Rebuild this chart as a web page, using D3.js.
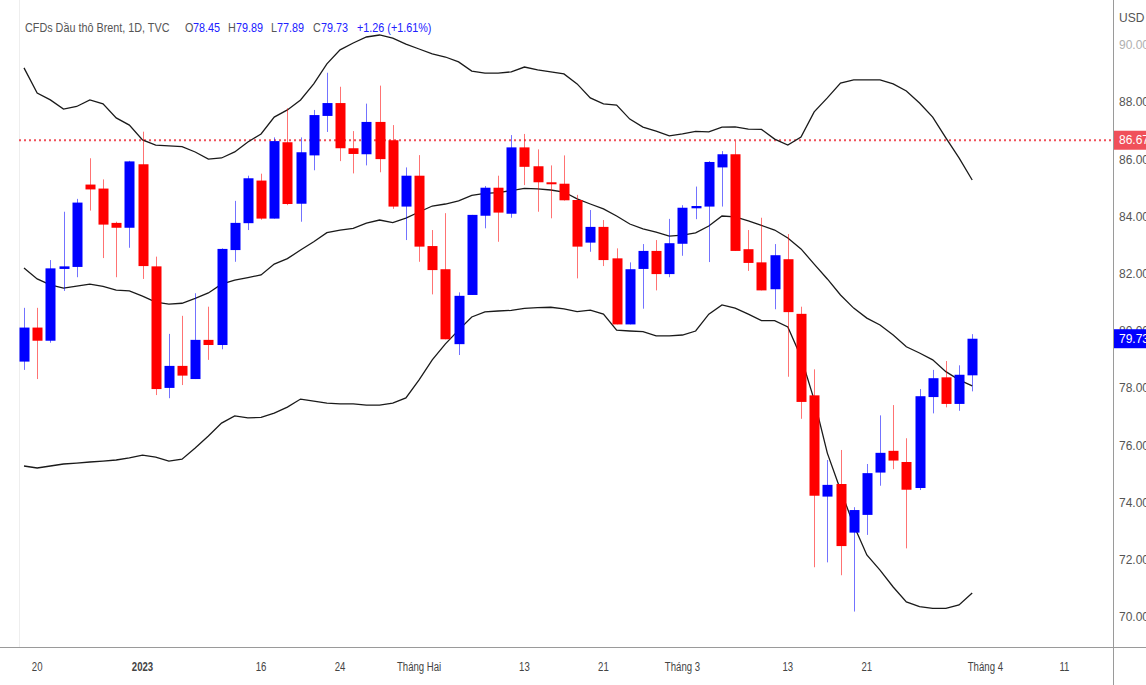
<!DOCTYPE html>
<html>
<head>
<meta charset="utf-8">
<script src="https://cdn.jsdelivr.net/npm/d3@7"></script>
<style>
  body { margin: 0; background: #fff; }
  svg { display: block; font-family: "Liberation Sans", Arial, sans-serif; }
</style>
</head>
<body>
<div id="chart"></div>
<script>
// candles, one per trading day (19 Dec 2022 .. 31 Mar 2023)
var opens  = [78.93,80.12,79.66,82.17,82.24,85.12,84.98,83.78,83.61,85.83,82.26,78.01,78.78,78.32,79.69,79.51,82.83,83.77,85.26,83.93,
              86.60,84.45,86.14,87.52,87.97,86.39,86.18,87.31,86.67,84.35,85.43,82.97,82.16,79.54,81.26,84.03,85.01,84.10,86.42,85.76,
              85.20,85.15,84.58,83.09,83.64,82.54,80.23,82.17,82.80,81.99,83.05,84.29,84.35,85.72,86.18,82.86,82.40,81.46,82.51,80.60,
              77.75,74.21,74.65,72.95,73.57,75.05,75.81,75.42,74.51,77.69,78.38,77.45,78.45];
var highs  = [80.81,80.81,82.48,84.17,84.62,86.04,85.30,83.82,85.95,86.97,82.60,79.90,80.53,81.32,80.85,82.89,84.55,85.43,85.50,86.77,
              87.79,86.77,87.73,89.03,88.54,86.99,87.95,88.58,87.20,85.72,86.15,83.53,84.12,81.35,84.06,85.07,85.43,86.85,86.89,86.35,
              85.79,86.14,84.76,84.23,83.88,82.89,82.40,83.04,83.18,83.92,84.40,85.05,85.94,86.29,86.65,83.53,83.96,83.04,83.39,80.85,
              78.66,75.49,75.84,73.84,75.35,77.05,77.41,76.25,77.97,78.64,78.95,78.80,79.89];
var lows   = [78.64,78.32,79.59,81.40,81.88,84.21,82.55,81.88,82.91,81.82,77.76,77.65,78.11,78.32,78.99,79.36,82.42,83.53,83.89,83.93,
              84.40,83.82,85.62,86.96,85.94,85.51,85.79,85.55,84.27,83.18,82.42,81.28,79.71,79.16,81.26,83.59,83.12,83.96,85.10,84.17,
              83.94,84.56,81.84,82.77,82.27,80.23,80.23,80.78,81.42,81.88,82.63,83.91,82.41,84.35,82.80,82.10,81.42,80.76,78.40,76.93,
              71.74,71.91,71.46,70.19,72.87,74.59,75.17,72.40,74.44,77.12,77.33,77.21,77.89];
var closes = [80.12,79.66,82.19,82.26,84.49,84.95,83.72,83.61,85.93,82.27,77.97,78.78,78.44,79.69,79.51,82.87,83.78,85.34,83.93,86.64,
              84.44,86.25,87.55,87.97,86.39,86.19,87.31,86.01,84.35,85.43,82.95,82.13,79.71,81.23,84.06,85.01,84.14,86.42,85.74,85.20,
              85.13,84.57,82.95,83.64,82.48,80.23,82.16,82.80,81.99,83.07,84.31,84.37,85.91,86.18,82.80,82.38,81.42,82.65,80.66,77.52,
              74.24,74.62,72.48,73.74,75.03,75.74,75.47,74.45,77.72,78.35,77.45,78.47,79.73];

// Bollinger bands
var bbUpper = [89.20,88.32,88.08,87.76,87.85,88.08,87.94,87.45,87.20,86.68,86.50,86.47,86.45,86.26,86.01,86.05,86.26,86.61,86.89,87.48,
               87.73,88.08,88.64,89.34,89.83,90.07,90.28,90.35,90.24,90.03,89.86,89.69,89.58,89.41,89.09,89.02,89.02,89.06,89.23,89.13,
               89.06,88.99,88.64,88.15,87.94,87.90,87.41,87.13,86.99,86.82,86.89,86.98,86.96,87.13,87.14,87.06,87.05,86.71,86.50,86.78,
               87.66,88.15,88.67,88.78,88.78,88.78,88.64,88.39,87.97,87.48,86.75,86.05,85.28];
var bbBasis = [82.20,81.82,81.61,81.50,81.57,81.64,81.56,81.43,81.40,81.22,81.01,80.94,80.97,81.14,81.33,81.64,81.78,81.87,81.96,82.34,
               82.53,82.83,83.12,83.44,83.53,83.59,83.77,83.88,83.79,83.95,84.16,84.37,84.44,84.55,84.74,84.81,84.84,84.91,84.99,84.97,
               84.93,84.86,84.62,84.44,84.27,84.02,83.74,83.57,83.46,83.32,83.35,83.43,83.67,84.02,83.99,83.85,83.69,83.53,83.25,82.87,
               82.34,81.82,81.26,80.80,80.45,80.21,79.86,79.45,79.23,78.99,78.58,78.29,78.08];
var bbLower = [75.28,75.21,75.28,75.35,75.38,75.42,75.45,75.49,75.56,75.66,75.59,75.45,75.52,75.91,76.33,76.78,77.03,76.96,76.98,77.13,
               77.34,77.62,77.55,77.48,77.45,77.45,77.41,77.41,77.48,77.66,78.29,78.99,79.55,80.03,80.49,80.67,80.70,80.72,80.79,80.82,
               80.83,80.77,80.68,80.73,80.59,80.03,80.00,79.98,79.83,79.83,79.86,80.00,80.59,80.91,80.80,80.59,80.36,80.36,80.14,79.09,
               77.59,75.73,74.44,73.22,72.17,71.64,71.05,70.53,70.36,70.30,70.30,70.42,70.84];

var priceTicks = [70, 72, 74, 76, 78, 80, 82, 84, 86, 88, 90];
var markLine = 86.67;
var dateTickIdx = [1, 9, 18, 24, 30, 38, 44, 50, 58, 64, 73, 79];
var dateTickLbl = ["20", "2023", "16", "24", "Tháng Hai", "13", "21", "Tháng 3", "13", "21", "Tháng 4", "11"];

var W = 1146, H = 685;
var plotL = 19, plotR = 1113, plotB = 647;
var UP = "#0000ff", DOWN = "#ff0000";

var svg = d3.select("#chart").append("svg").attr("width", W).attr("height", H);

var x = d3.scaleLinear().domain([0, 72]).range([24, 972.2]);
var y = d3.scaleLinear().domain([70, 90]).range([617, 45]);

// squeeze text horizontally, the chart uses a narrow face
function condense(sel, k) {
    sel.each(function() {
        var w = this.getComputedTextLength();
        d3.select(this).attr("textLength", w * k).attr("lengthAdjust", "spacingAndGlyphs");
    });
}

svg.append("clipPath").attr("id", "plot")
    .append("rect").attr("x", plotL).attr("y", 0).attr("width", plotR - plotL).attr("height", plotB);

// frame
svg.append("line").attr("x1", plotL + 0.5).attr("x2", plotL + 0.5).attr("y1", 0).attr("y2", plotB)
    .attr("stroke", "#eeeeee");
svg.append("line").attr("x1", 0).attr("x2", W).attr("y1", plotB + 0.5).attr("y2", plotB + 0.5)
    .attr("stroke", "#9a9a9a");
svg.append("line").attr("x1", plotR + 0.5).attr("x2", plotR + 0.5).attr("y1", 0).attr("y2", H)
    .attr("stroke", "#9a9a9a");

var g = svg.append("g").attr("clip-path", "url(#plot)");

// dotted price line
g.append("line")
    .attr("x1", plotL).attr("x2", plotR)
    .attr("y1", y(markLine)).attr("y2", y(markLine))
    .attr("stroke", "#f0505a").attr("stroke-width", 2).attr("stroke-dasharray", "2,3");

// bands
var idx = d3.range(opens.length);
[bbUpper, bbBasis, bbLower].forEach(function(band) {
    var line = d3.line()
        .x(function(i) { return x(i); })
        .y(function(i) { return y(band[i]); });
    g.append("path").datum(idx)
        .attr("d", line)
        .attr("fill", "none")
        .attr("stroke", "#1a1a1a")
        .attr("stroke-width", 1.3);
});

// candles
var bw = 10;
var candle = g.selectAll(".candle").data(idx).enter().append("g").attr("class", "candle");
candle.append("line")
    .attr("x1", function(i) { return Math.round(x(i)) + 0.5; })
    .attr("x2", function(i) { return Math.round(x(i)) + 0.5; })
    .attr("y1", function(i) { return y(highs[i]); })
    .attr("y2", function(i) { return y(lows[i]); })
    .attr("stroke", function(i) { return closes[i] >= opens[i] ? UP : DOWN; })
    .attr("stroke-opacity", 0.55);
candle.append("rect")
    .attr("x", function(i) { return Math.round(x(i)) + 0.5 - bw / 2; })
    .attr("width", bw)
    .attr("y", function(i) { return y(Math.max(opens[i], closes[i])); })
    .attr("height", function(i) { return Math.max(1.5, Math.abs(y(opens[i]) - y(closes[i]))); })
    .attr("fill", function(i) { return closes[i] >= opens[i] ? UP : DOWN; });

// price axis
var yAxis = svg.append("g").attr("font-size", 12);
yAxis.selectAll("text.tick").data(priceTicks).enter().append("text")
    .attr("class", "tick")
    .attr("x", 1119)
    .attr("y", function(d) { return y(d); })
    .attr("dy", "0.35em")
    .attr("fill", function(d) { return d === 90 ? "#b0b0b0" : "#555"; })
    .text(function(d) { return d.toFixed(2); });
yAxis.append("text").attr("x", 1119).attr("y", 22).attr("fill", "#555").text("USD");

function priceTag(v, color) {
    yAxis.append("rect").attr("x", plotR + 1).attr("y", y(v) - 9.5).attr("width", W - plotR).attr("height", 19)
        .attr("fill", color);
    yAxis.append("text").attr("x", 1119).attr("y", y(v)).attr("dy", "0.35em")
        .attr("fill", "#fff").text(v.toFixed(2));
}
priceTag(markLine, "#f0505a");
priceTag(closes[closes.length - 1], UP);

// date axis
svg.append("g").attr("font-size", 12).attr("fill", "#444")
    .selectAll("text").data(dateTickIdx).enter().append("text")
    .attr("x", function(i) { return x(i); })
    .attr("y", 667)
    .attr("dy", "0.35em")
    .attr("text-anchor", "middle")
    .attr("font-weight", function(i, k) { return dateTickLbl[k] === "2023" ? 700 : 400; })
    .text(function(i, k) { return dateTickLbl[k]; })
    .call(condense, 0.8);

// legend
var last = opens.length - 1;
var chg = closes[last] - closes[last - 1];
var legend = [
    { t: "CFDs Dầu thô Brent, 1D, TVC", x: 25, c: "#555" },
    { t: "O", x: 185, c: "#555" }, { t: opens[last].toFixed(2), x: 193, c: "#2020ff" },
    { t: "H", x: 228, c: "#555" }, { t: highs[last].toFixed(2), x: 236, c: "#2020ff" },
    { t: "L", x: 271, c: "#555" }, { t: lows[last].toFixed(2), x: 277, c: "#2020ff" },
    { t: "C", x: 313, c: "#555" }, { t: closes[last].toFixed(2), x: 321, c: "#2020ff" },
    { t: "+" + chg.toFixed(2) + " (+" + (chg / closes[last - 1] * 100).toFixed(2) + "%)", x: 357, c: "#2020ff" }
];
svg.append("g").attr("font-size", 13.5)
    .selectAll("text").data(legend).enter().append("text")
    .attr("x", function(d) { return d.x; })
    .attr("y", 27)
    .attr("dy", "0.35em")
    .attr("fill", function(d) { return d.c; })
    .text(function(d) { return d.t; })
    .call(condense, 0.8);
</script>
</body>
</html>
